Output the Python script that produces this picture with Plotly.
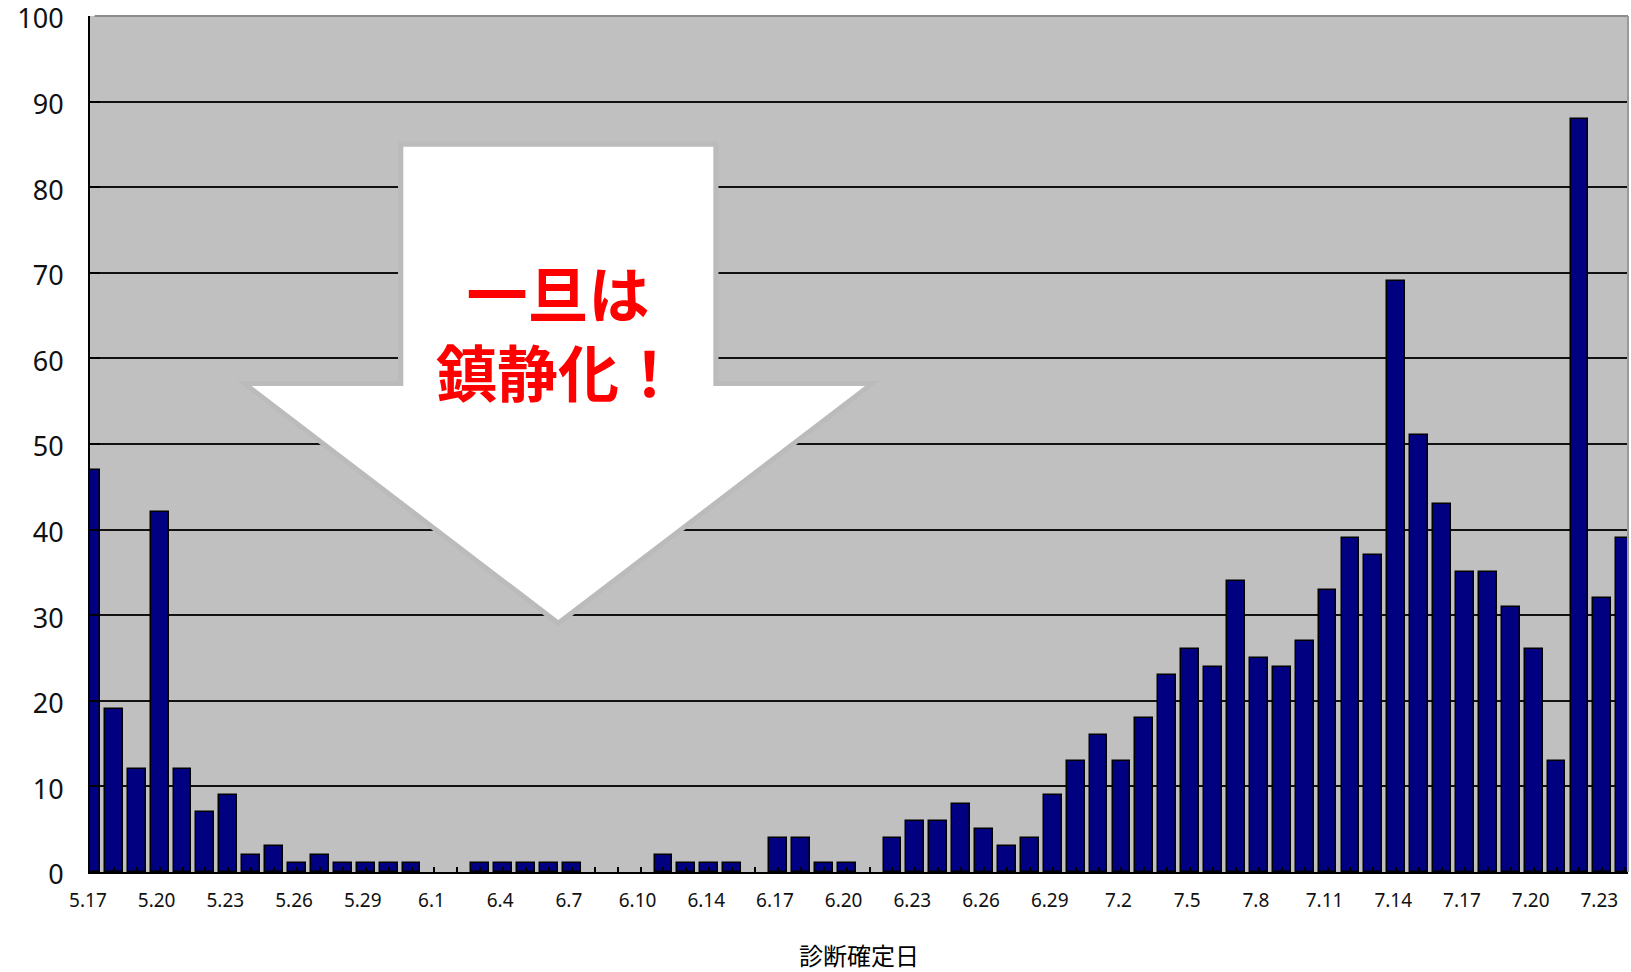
import plotly.graph_objects as go

# ---- data ----
dates = (
    ["5.%d" % d for d in range(17, 32)]
    + ["6.%d" % d for d in range(1, 13)]
    + ["6.%d" % d for d in range(14, 31)]
    + ["7.%d" % d for d in range(1, 25)]
)
counts = [
    47, 19, 12, 42, 12, 7, 9, 2, 3, 1, 2, 1, 1, 1, 1,          # 5.17 - 5.31
    0, 0, 1, 1, 1, 1, 1, 0, 0, 0,                               # 6.1 - 6.10
    2, 1,                                                       # 6.11 - 6.12
    1, 1, 0, 4, 4, 1, 1, 0, 4, 6, 6, 8, 5, 3, 4, 9, 13,         # 6.14 - 6.30
    16, 13, 18, 23, 26, 24, 34, 25, 24, 27, 33, 39, 37, 69,     # 7.1 - 7.14
    51, 43, 35, 35, 31, 26, 13, 88, 32, 39,                     # 7.15 - 7.24
]
labeled = ["5.17", "5.20", "5.23", "5.26", "5.29", "6.1", "6.4", "6.7",
           "6.10", "6.14", "6.17", "6.20", "6.23", "6.26", "6.29", "7.2",
           "7.5", "7.8", "7.11", "7.14", "7.17", "7.20", "7.23"]
ytick_vals = list(range(0, 101, 10))
x_title = "診断確定日"
callout_lines = ["一旦は", "鎮静化！"]

# ---- layout geometry (pixels) ----
FW, FH = 1631, 972
L, R, T, B = 90, 1628, 16, 872
PW, PH = R - L, B - T

def px(x):
    return (x - L) / PW

def py(y):
    return (B - y) / PH

def path(points):
    return "M " + " L ".join("%.5f,%.5f" % (px(x), py(y)) for x, y in points) + " Z"

ticktext = [d if d in labeled else "" for d in dates]
outline_widths = [1.5 if c > 0 else 0 for c in counts]

fig = go.Figure(
    go.Bar(
        x=dates,
        y=counts,
        width=0.78,
        marker=dict(color="#000080", line=dict(color="black", width=outline_widths)),
        hoverinfo="x+y",
    )
)

fig.update_layout(
    width=FW,
    height=FH,
    margin=dict(l=L, r=FW - R, t=T, b=FH - B, autoexpand=False),
    paper_bgcolor="white",
    plot_bgcolor="#C0C0C0",
    showlegend=False,
    bargap=0,
    font=dict(family="Noto Sans, Noto Sans CJK JP", color="black"),
)

fig.update_xaxes(
    type="category",
    categoryorder="array",
    categoryarray=dates,
    range=[-0.04, 67.12],
    tickmode="array",
    tickvals=dates,
    ticktext=ticktext,
    ticks="inside",
    ticklen=5,
    tickwidth=1.5,
    tickcolor="black",
    tickfont=dict(size=19, family="Noto Sans", color="#111"),
    ticklabelstandoff=10,
    ticklabelshift=-3,
    ticklabeloverflow="allow",
    tickangle=0,
    showline=True,
    linecolor="black",
    linewidth=2,
    showgrid=False,
    automargin=False,
    title=dict(text=x_title, font=dict(size=24, family="Noto Sans CJK JP", color="black"), standoff=38),
)

fig.update_yaxes(
    range=[0, 100],
    tickmode="array",
    tickvals=ytick_vals,
    ticks="inside",
    ticklen=10,
    tickwidth=1.5,
    tickcolor="black",
    tickfont=dict(size=27, family="Noto Sans", color="#111"),
    ticklabelstandoff=19,
    ticklabelshift=3,
    ticklabeloverflow="allow",
    showline=True,
    linecolor="black",
    linewidth=2,
    showgrid=True,
    gridcolor="#111111",
    gridwidth=1.5,
    zeroline=False,
    automargin=False,
)

shapes = [
    # gray top & right border of plot area
    dict(type="line", xref="paper", yref="paper", x0=0.003, x1=1, y0=1, y1=1,
         line=dict(color="#8C8C8C", width=2), layer="above"),
    dict(type="line", xref="paper", yref="paper", x0=1, x1=1, y0=0, y1=1,
         line=dict(color="#9A9A9A", width=2), layer="above"),
    # arrow shadow
    dict(type="path", xref="paper", yref="paper",
         path=path([(398, 141.5), (718.5, 141.5), (718.5, 381), (879.5, 381),
                    (558.3, 626.5), (237, 381), (398, 381)]),
         fillcolor="#BBBBBB", line=dict(width=0), layer="above"),
    # white arrow
    dict(type="path", xref="paper", yref="paper",
         path=path([(403.3, 146.7), (713.3, 146.7), (713.3, 386), (865, 386),
                    (558.3, 620), (251.7, 386), (403.3, 386)]),
         fillcolor="white", line=dict(width=0), layer="above"),
]
fig.update_layout(shapes=shapes)

fig.add_annotation(
    x=px(558), y=py(331), xref="paper", yref="paper",
    text="<b>%s<br>%s</b>" % (callout_lines[0], callout_lines[1]), showarrow=False,
    xanchor="center", yanchor="middle", align="center",
    font=dict(size=61, family="Noto Sans CJK JP", color="#FF0000"),
)

fig.write_html("out.html", config={"displayModeBar": False})
